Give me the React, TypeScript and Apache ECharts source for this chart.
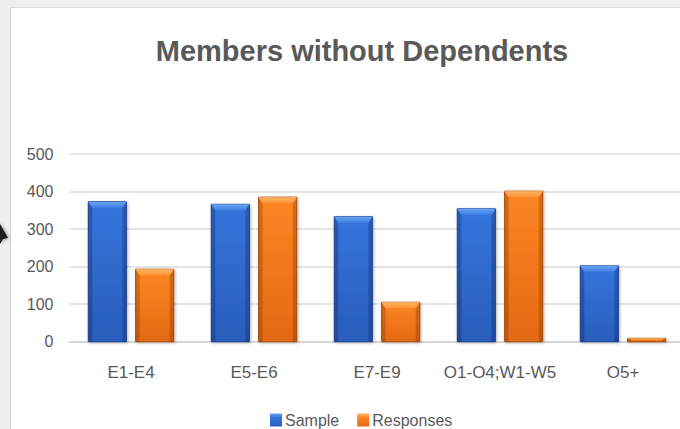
import React, { useEffect, useRef } from "react";
import * as echarts from "echarts";

const categories = ["E1-E4", "E5-E6", "E7-E9", "O1-O4;W1-W5", "O5+"];
const sampleValues = [373, 366, 333, 354, 202];
const responseValues = [193, 385, 105, 401, 9];
const seriesNames = ["Sample", "Responses"];
const yMin = 0;
const yMax = 500;
const yInterval = 100;

const FONT = "'Liberation Sans', Arial, sans-serif";
const TEXT = "#595959";

const palettes = [
  { top: "#3475dc", bottom: "#2a5dbb", bevelA: "#6aa2f0", bevelB: "#3f7fe2", stroke: "#21489a", side: "rgba(10,25,80,0.28)" },
  { top: "#fc8624", bottom: "#e46912", bevelA: "#ffb768", bevelB: "#fd9232", stroke: "#b1510e", side: "rgba(90,30,0,0.25)" },
];

function makeRender(sign: number, p: any) {
  return (params: any, api: any) => {
    const idx = api.value(0);
    const v = api.value(1);
    const band = api.size([1, 0])[0];
    const w = band * 0.31;
    const gap = band * 0.075;
    const c = api.coord([idx, v]);
    const b = api.coord([idx, 0]);
    const cx = c[0] + sign * (gap / 2 + w / 2);
    const x0 = cx - w / 2;
    const x1 = cx + w / 2;
    const y0 = c[1];
    const y1 = b[1];
    const h = y1 - y0;
    const bev = Math.min(6, h / 2);
    const side = Math.min(4, w / 4);
    return {
      type: "group",
      children: [
        {
          type: "rect",
          shape: { x: x0, y: y0, width: w, height: h },
          style: {
            fill: new echarts.graphic.LinearGradient(0, 0, 0, 1, [
              { offset: 0, color: p.top },
              { offset: 1, color: p.bottom },
            ]),
            stroke: p.stroke,
            lineWidth: 1,
            shadowBlur: 3,
            shadowOffsetX: 1,
            shadowOffsetY: 1,
            shadowColor: "rgba(0,0,0,0.3)",
          },
        },
        {
          type: "polygon",
          shape: { points: [[x0, y0], [x0 + side, y0 + bev], [x0 + side, y1], [x0, y1]] },
          style: { fill: p.side },
        },
        {
          type: "polygon",
          shape: { points: [[x1, y0], [x1 - side, y0 + bev], [x1 - side, y1], [x1, y1]] },
          style: { fill: p.side },
        },
        {
          type: "polygon",
          shape: { points: [[x0, y0], [x1, y0], [x1 - side, y0 + bev], [x0 + side, y0 + bev]] },
          style: {
            fill: new echarts.graphic.LinearGradient(0, 0, 0, 1, [
              { offset: 0, color: p.bevelA },
              { offset: 1, color: p.bevelB },
            ]),
          },
        },
      ],
    };
  };
}

export default function App() {
  const ref = useRef<HTMLDivElement>(null);
  useEffect(() => {
    const chart = echarts.init(ref.current!, null, { renderer: "svg" });
    const legendColor = (p: any) =>
      new echarts.graphic.LinearGradient(0, 0, 0, 1, [
        { offset: 0, color: p.bevelA },
        { offset: 0.3, color: p.top },
        { offset: 1, color: p.bottom },
      ]);
    chart.setOption({
      animation: false,
      backgroundColor: "#ffffff",
      title: {
        text: "Members without Dependents",
        left: 357,
        top: 31,
        textAlign: "center",
        textStyle: { fontFamily: FONT, fontWeight: "bold", fontSize: 29, color: TEXT },
      },
      legend: {
        data: seriesNames,
        left: 270,
        top: 412,
        padding: 0,
        icon: "rect",
        itemWidth: 12,
        itemHeight: 13,
        itemGap: 18,
        textStyle: { fontFamily: FONT, fontSize: 16, color: TEXT, padding: [0, 0, 0, -2] },
      },
      grid: { left: 69.5, right: 5.5, top: 154, bottom: 87.3 },
      xAxis: {
        type: "category",
        data: categories,
        axisTick: { show: false },
        axisLine: { show: true, lineStyle: { color: "#d6d6d6", width: 2 } },
        axisLabel: { fontFamily: FONT, fontSize: 17, color: TEXT, margin: 22, interval: 0 },
      },
      yAxis: {
        type: "value",
        min: yMin,
        max: yMax,
        interval: yInterval,
        axisLine: { show: false },
        axisTick: { show: false },
        splitLine: { lineStyle: { color: "#dcdcdc", width: 1.5 } },
        axisLabel: { fontFamily: FONT, fontSize: 16, color: TEXT, margin: 16 },
      },
      series: [
        {
          name: seriesNames[0],
          type: "custom",
          encode: { x: 0, y: 1 },
          data: sampleValues.map((v, i) => [i, v]),
          itemStyle: { color: legendColor(palettes[0]) },
          renderItem: makeRender(-1, palettes[0]),
        },
        {
          name: seriesNames[1],
          type: "custom",
          encode: { x: 0, y: 1 },
          data: responseValues.map((v, i) => [i, v]),
          itemStyle: { color: legendColor(palettes[1]) },
          renderItem: makeRender(1, palettes[1]),
        },
      ],
      graphic: [
        { type: "rect", shape: { x: 0, y: 0, width: 700, height: 7 }, style: { fill: "#efefef" }, z: 100 },
        { type: "rect", shape: { x: 0, y: 0, width: 10, height: 429 }, style: { fill: "#efefef" }, z: 100 },
        { type: "line", shape: { x1: 10.5, y1: 7, x2: 10.5, y2: 429 }, style: { stroke: "#d4d4d4", lineWidth: 1 }, z: 101 },
        { type: "line", shape: { x1: 10, y1: 7.5, x2: 700, y2: 7.5 }, style: { stroke: "#dcdcdc", lineWidth: 1 }, z: 101 },
        {
          type: "polygon",
          shape: { points: [[0, 224], [8, 238], [3, 239], [0, 244]] },
          style: { fill: "#1a1a1a", shadowBlur: 4, shadowColor: "rgba(0,0,0,0.6)" },
          z: 102,
        },
      ],
    });
    return () => chart.dispose();
  }, []);
  return (
    <div style={{ position: "absolute", left: 0, top: 0, width: 680, height: 429, overflow: "hidden" }}>
      <div ref={ref} style={{ width: 690, height: 429 }} />
    </div>
  );
}
